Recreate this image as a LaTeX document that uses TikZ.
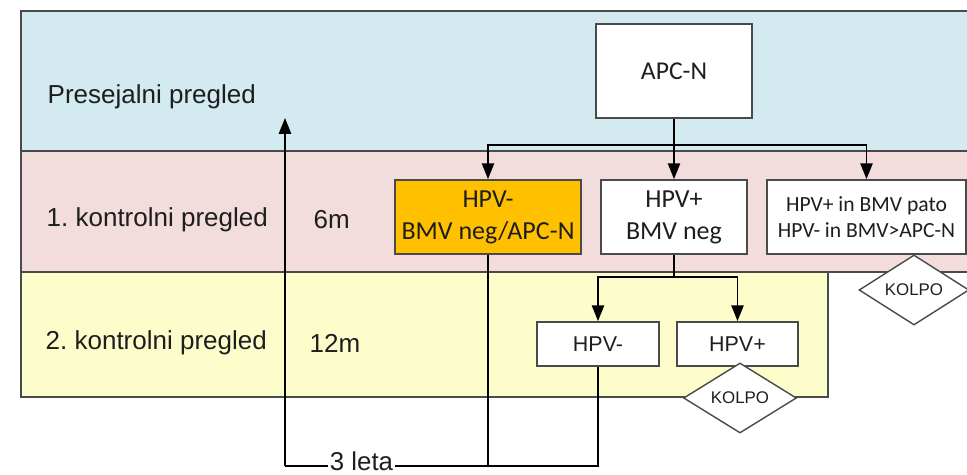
\documentclass[tikz,border=0pt]{standalone}
\usepackage{fontspec}
\setmainfont{Liberation Sans}
\newfontfamily\boxfont{Carlito}
\usetikzlibrary{shapes.geometric,arrows.meta}
\definecolor{bandblue}{HTML}{D3EAF0}
\definecolor{bandpink}{HTML}{F2DCDC}
\definecolor{bandyellow}{HTML}{FDFDCB}
\definecolor{boxorange}{HTML}{FFC000}
\definecolor{edgegray}{HTML}{4A4A4A}
\definecolor{inkdark}{HTML}{1E1E1E}
\frenchspacing

\tikzset{
  band/.style={draw=edgegray, line width=1pt},
  rowlabel/.style={anchor=west, inner sep=0pt, text=inkdark, font=\fontsize{14.8}{18}\selectfont},
  box/.style={draw=edgegray, line width=1pt, fill=white, inner sep=0pt, text=inkdark, align=center},
  kolpo/.style={diamond, draw=edgegray, line width=0.8pt, fill=white, inner sep=0pt, text=inkdark,
    font=\fontsize{9.6}{11}\selectfont},
  arr/.style={-{Triangle[width=7pt,length=9pt]}},
}

\begin{document}
\begin{tikzpicture}[x=0.02cm,y=-0.02cm, line width=0.8pt]
\useasboundingbox (0,0) rectangle (967,475);

% pasovi
\draw[band, fill=bandblue] (21,11) rectangle (980,151);
\draw[band, fill=bandpink] (21,151) rectangle (980,272);
\draw[band, fill=bandyellow] (21,272) rectangle (828,397);

\node[rowlabel] (pres) at (47,97) {Presejalni pregled};
\node[rowlabel] (kp1) at (46,220) {1. kontrolni pregled};
\node[rowlabel] (m6) at (313,220) {6m};
\node[rowlabel] (kp2) at (45,343) {2. kontrolni pregled};
\node[rowlabel] (m12) at (309,343) {12m};

% okvirji
\node[box, minimum width=3.12cm, minimum height=1.88cm, font=\boxfont\fontsize{14.6}{18}\selectfont]
  (apc) at (674,71) {APC-N};
\node[box, fill=boxorange, minimum width=3.72cm, minimum height=1.48cm, font=\boxfont\fontsize{14.8}{18.2}\selectfont]
  (hpvneg) at (488,217) {HPV-\\BMV neg/APC-N};
\node[box, minimum width=2.92cm, minimum height=1.48cm, font=\boxfont\fontsize{14.8}{18.2}\selectfont]
  (hpvpos) at (674,217) {HPV+\\BMV neg};
\node[box, minimum width=3.98cm, minimum height=1.48cm, font=\boxfont\fontsize{12.3}{14.8}\selectfont]
  (pato) at (866.5,217) {HPV+ in BMV pato\\HPV- in BMV>APC-N};
\node[box, minimum width=2.44cm, minimum height=0.88cm, font=\fontsize{12.2}{14}\selectfont]
  (hpvm2) at (598,344) {HPV-};
\node[box, minimum width=2.42cm, minimum height=0.88cm, font=\fontsize{12.2}{14}\selectfont]
  (hpvp2) at (737.5,344) {HPV+};

\node[kolpo, minimum width=2.26cm, minimum height=1.36cm] (kolpoa) at (740,398) {KOLPO};
\node[kolpo, minimum width=2.2cm, minimum height=1.36cm] (kolpob) at (914,290) {KOLPO};

% povezave
\coordinate (fork1) at (674,145);
\coordinate (fork2) at (674,277);
\draw (apc.south) -- (fork1);
\draw[arr] (fork1) -| (hpvneg.north);
\draw[arr] (fork1) -- (hpvpos.north);
\draw[arr] (fork1) -| (pato.north);
\draw (hpvpos.south) -- (fork2);
\draw[arr] (fork2) -| (hpvm2.north);
\draw[arr] (fork2) -| (hpvp2.north);

% vrnitev
\coordinate (ret) at (285,466);
\coordinate (rettip) at (285,118);
\draw (hpvm2.south) |- (ret);
\draw (hpvneg.south) -- (hpvneg.south |- ret);
\draw[arr] (ret) -- (rettip);
\node[fill=white, inner xsep=1pt, inner ysep=0pt, anchor=base, text=inkdark, font=\fontsize{14.7}{18}\selectfont]
  (leta) at (361.5,471) {3 leta};
\end{tikzpicture}
\end{document}
